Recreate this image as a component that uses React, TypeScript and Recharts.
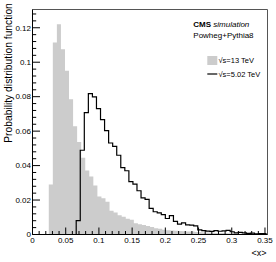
import { ComposedChart, Area, Line, XAxis, YAxis, ReferenceArea, Legend } from "recharts";

// bin width and first populated bin edge of each histogram
const BIN = 0.0061;
const START_13 = 0.0245;
const START_502 = 0.0658;

// normalised bin contents
const pdf13 = [
  0.029, 0.1115, 0.122, 0.1076, 0.095, 0.0785, 0.0628, 0.0537, 0.0446, 0.0372,
  0.0337, 0.0285, 0.0221, 0.0211, 0.019, 0.0138, 0.0127, 0.0112, 0.0103, 0.0091,
  0.0085, 0.0065, 0.006, 0.0055, 0.005, 0.0043, 0.0036, 0.0033, 0.0028, 0.0024,
  0.0023, 0.0022, 0.0021, 0.0019, 0.0017, 0.0017, 0.0015, 0.0013, 0.0012, 0.0011,
  0.001, 0.0009, 0.0008, 0.0008, 0.0007, 0.0006, 0.0006, 0.0005, 0.0005, 0.0004,
  0.0004, 0.0004, 0.0003, 0.0003,
];
const pdf502 = [
  0.008, 0.0489, 0.0708, 0.0818, 0.0799, 0.0731, 0.0667, 0.0603, 0.0531, 0.0512,
  0.046, 0.0388, 0.037, 0.0307, 0.0292, 0.0254, 0.0213, 0.0204, 0.0152, 0.0132,
  0.0125, 0.0115, 0.0093, 0.011, 0.0076, 0.006, 0.0068, 0.0056, 0.0054, 0.005,
  0.0027, 0.0022, 0.002, 0.0018, 0.0022, 0.0019, 0.0021, 0.0024, 0.0016, 0.001,
  0.0012, 0.0009, 0.0006, 0.0008, 0.0004, 0.0005, 0.0005,
];

const X_LABELS = [0, 0.05, 0.1, 0.15, 0.2, 0.25, 0.3, 0.35];
const Y_LABELS = [0, 0.02, 0.04, 0.06, 0.08, 0.1, 0.12];
const X_MAX = 0.3538;
const Y_MAX = 0.1306;

const NAME_13 = "√s=13 TeV";
const NAME_502 = "√s=5.02 TeV";

function toSteps(start: number, values: number[], fromZero: boolean) {
  const pts = values.map((y, i) => ({ x: start + i * BIN, y }));
  pts.push({ x: start + values.length * BIN, y: values[values.length - 1] });
  return fromZero ? [{ x: start, y: 0 }, ...pts] : pts;
}

const data13 = toSteps(START_13, pdf13, false);
const data502 = toSteps(START_502, pdf502, true);

// minor ticks: 5 divisions per labelled interval
const xTicks: number[] = [];
for (let i = 0; i <= 35; i++) xTicks.push(i / 100);
const yTicks: number[] = [];
for (let i = 0; i * 0.004 <= Y_MAX; i++) yTicks.push(i * 0.004);

const isIn = (list: number[], v: number) => list.some((t) => Math.abs(t - v) < 1e-6);
const fmt = (v: number) => String(Number(v.toFixed(3)));

const XTick = (props: any) => {
  const { x, y, payload } = props;
  const v = payload.value;
  const major = isIn(X_LABELS, v);
  return (
    <g>
      <line x1={x} x2={x} y1={y} y2={y - (major ? 7 : 3.5)} stroke="#000" />
      {major && (
        <text x={x} y={y + 8.5} textAnchor="middle" fontSize={8} fill="#000">
          {fmt(v)}
        </text>
      )}
    </g>
  );
};

const YTick = (props: any) => {
  const { x, y, payload } = props;
  const v = payload.value;
  const major = isIn(Y_LABELS, v);
  return (
    <g>
      <line x1={x} x2={x + (major ? 7.5 : 3.7)} y1={y} y2={y} stroke="#000" />
      {major && (
        <text x={x - 1.5} y={y + 2.8} textAnchor="end" fontSize={8} fill="#000">
          {fmt(v)}
        </text>
      )}
    </g>
  );
};

const renderLegend = (props: any) => {
  const items = props.payload || [];
  return (
    <svg width={86} height={84} style={{ display: "block", overflow: "visible" }}>
      <text x={3.3} y={26.8} fontSize={8} fill="#000">
        <tspan fontWeight="bold">CMS</tspan>
        <tspan fontStyle="italic"> simulation</tspan>
      </text>
      <text x={3.3} y={37.8} fontSize={8} fill="#000">
        Powheg+Pythia8
      </text>
      {items.map((it: any, i: number) => {
        const cy = 60.5 + i * 13.5;
        return (
          <g key={i}>
            {it.type === "rect" ? (
              <rect x={17.3} y={cy - 4.5} width={10} height={9} fill={it.color} />
            ) : (
              <line x1={17.3} x2={27.3} y1={cy} y2={cy} stroke={it.color} strokeWidth={1.2} />
            )}
            <text x={28.5} y={cy + 2.7} fontSize={7.5} fill="#000">
              {it.value}
            </text>
          </g>
        );
      })}
    </svg>
  );
};

export default function App() {
  return (
    <div
      style={{
        position: "absolute",
        left: 0,
        top: 0,
        width: 276,
        height: 262,
        background: "#fff",
        fontFamily: "'Liberation Sans', Arial, sans-serif",
      }}
    >
      <ComposedChart width={276} height={262} margin={{ top: 9.5, right: 8.5, bottom: 0, left: 0 }}>
        <ReferenceArea x1={0} x2={X_MAX} y1={0} y2={Y_MAX} fill="none" stroke="#555" strokeWidth={1} />
        <Area
          data={data13}
          dataKey="y"
          name={NAME_13}
          type="stepAfter"
          fill="#cccccc"
          fillOpacity={1}
          stroke="none"
          legendType="rect"
          isAnimationActive={false}
        />
        <Line
          data={data502}
          dataKey="y"
          name={NAME_502}
          type="stepAfter"
          stroke="#000"
          strokeWidth={1.2}
          dot={false}
          legendType="line"
          isAnimationActive={false}
        />
        <XAxis
          dataKey="x"
          type="number"
          domain={[0, X_MAX]}
          ticks={xTicks}
          interval={0}
          allowDataOverflow
          height={27.5}
          tickSize={0}
          tickMargin={0}
          tickLine={false}
          axisLine={{ stroke: "#000" }}
          tick={<XTick />}
          label={{
            content: (p: any) => (
              <text
                x={p.viewBox.x + p.viewBox.width - 1}
                y={p.viewBox.y + 21.5}
                textAnchor="end"
                fontSize={9}
                fill="#000"
              >
                {"<x>"}
              </text>
            ),
          }}
        />
        <YAxis
          type="number"
          domain={[0, Y_MAX]}
          ticks={yTicks}
          interval={0}
          allowDataOverflow
          width={32.5}
          tickSize={0}
          tickMargin={0}
          tickLine={false}
          axisLine={{ stroke: "#000" }}
          tick={<YTick />}
          label={{
            content: (p: any) => {
              const x = p.viewBox.x + 11.7;
              const y = p.viewBox.y + 63.5;
              return (
                <text x={x} y={y} transform={`rotate(-90, ${x}, ${y})`} textAnchor="middle" fontSize={10.3} fill="#000">
                  Probability distribution function
                </text>
              );
            },
          }}
        />
        <Legend
          layout="vertical"
          align="center"
          verticalAlign="middle"
          wrapperStyle={{ left: 190, top: 0, width: 86, height: 84 }}
          content={renderLegend}
        />
      </ComposedChart>
    </div>
  );
}
